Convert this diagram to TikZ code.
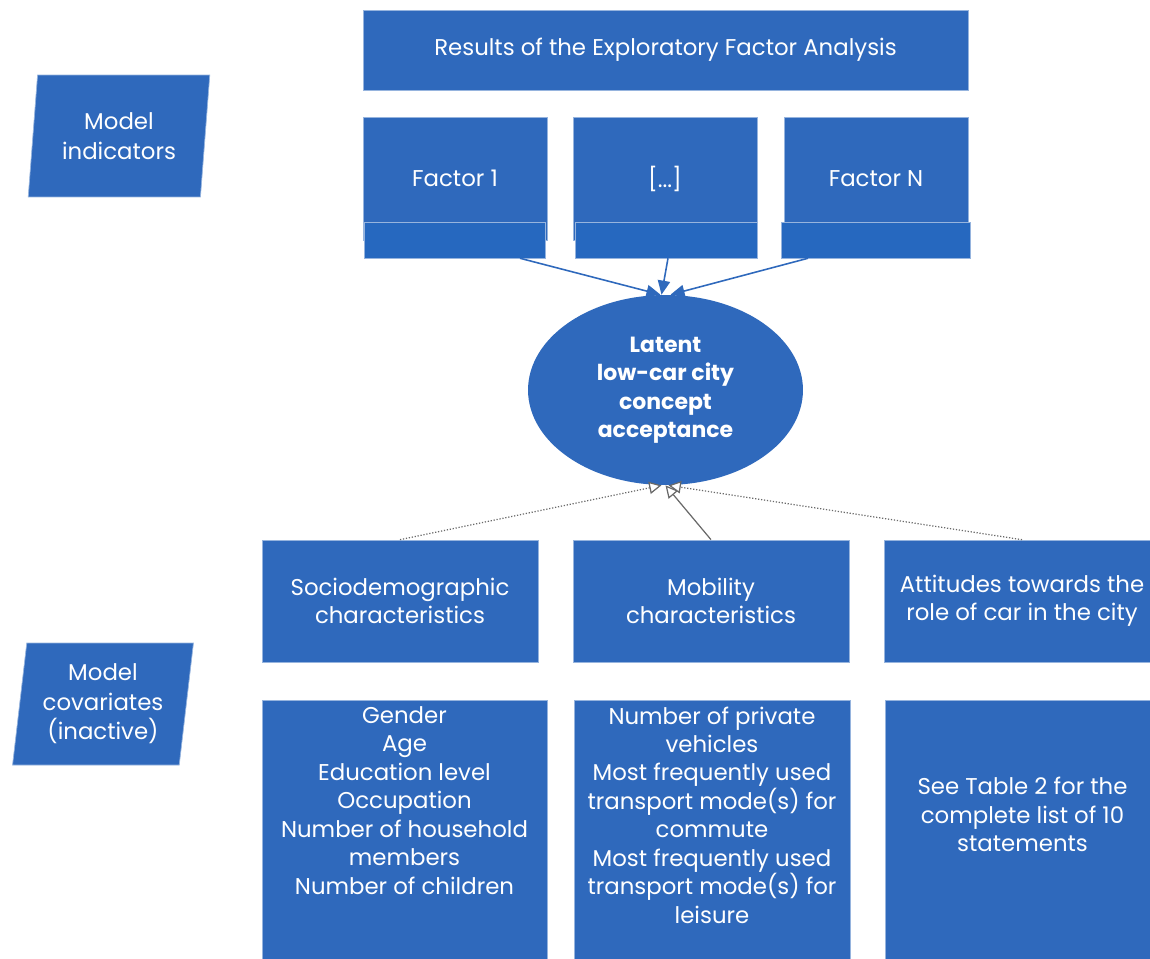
\documentclass[tikz,border=0pt]{standalone}
\usepackage{fontspec}
\setmainfont{Poppins}
\usetikzlibrary{arrows.meta, positioning, shapes.geometric}
\definecolor{boxblue}{RGB}{47,105,188}
\definecolor{bandblue}{RGB}{38,104,191}
\definecolor{edgeblue}{RGB}{150,180,222}
\definecolor{linegray}{RGB}{105,105,105}

\begin{document}
\begin{tikzpicture}[
    x=0.02cm, y=-0.02cm,
    blue box/.style={rectangle, fill=boxblue, draw=edgeblue, line width=0.4pt, text=white, align=center, inner sep=0pt, font=\fontsize{13}{16.2}\selectfont},
    factor box/.style={blue box, minimum width=3.68cm, minimum height=2.46cm},
    band/.style={rectangle, fill=bandblue, draw=edgeblue, line width=0.3pt, inner sep=0pt, minimum height=0.72cm},
    group box/.style={blue box, minimum width=5.52cm, minimum height=2.44cm},
    list box/.style={blue box, minimum height=6cm},
    list text/.style={text=white, align=center, inner sep=0pt, font=\fontsize{13}{16.2}\selectfont},
    latent/.style={ellipse, fill=boxblue, text=white, align=center, inner sep=0pt, minimum width=5.5cm, minimum height=3.8cm, font=\fontsize{12.5}{16.2}\selectfont\bfseries},
    slant/.style={trapezium, trapezium left angle=82, trapezium right angle=98, trapezium stretches=true, fill=boxblue, draw=edgeblue, line width=0.4pt, text=white, align=center, inner sep=0pt, minimum width=3.64cm, minimum height=2.44cm, font=\fontsize{13}{16.8}\selectfont},
    factor arrow/.style={-{Triangle[length=8pt, width=7pt]}, draw=boxblue, line width=0.9pt},
    cov arrow/.style={-{Triangle[length=7pt, width=7pt, fill=white]}, draw=linegray, line width=0.7pt}
]
    \path[use as bounding box] (0,0) rectangle (1150,958);
    \clip (0,0) rectangle (1150,958);

    % Side labels
    \node[slant] (ind) at (119,136) {Model\\indicators};
    \node[slant] (cov) at (103,704) {Model\\covariates\\(inactive)};

    % Indicators
    \node[blue box, minimum width=12.1cm, minimum height=1.6cm] (efa) at (665.5,50) {Results of the Exploratory Factor Analysis};
    \node[factor box] (f1) at (455,178.5) {Factor 1};
    \node[factor box] (fdots) at (665,178.5) {[...]};
    \node[factor box] (fN) at (876,178.5) {Factor N};
    \node[band, minimum width=3.62cm] (f1band) at (454.5,240) {};
    \node[band, minimum width=3.64cm] (fdotsband) at (666,240) {};
    \node[band, minimum width=3.78cm] (fNband) at (875.5,240) {};

    % Latent variable
    \node[latent] (lat) at (665.5,390) {Latent\\low-car city\\concept\\acceptance};

    % Covariate groups
    \node[group box] (socio) at (400,601) {Sociodemographic\\characteristics};
    \node[group box] (mob) at (711,601) {Mobility\\characteristics};
    \node[group box] (att) at (1022,601) {Attitudes towards the\\role of car in the city};

    \node[list box, minimum width=5.7cm] (socioLow) at (404.5,850) {};
    \node[list box, minimum width=5.52cm] (mobLow) at (712,850) {};
    \node[list box, minimum width=5.5cm] (attLow) at (1022.5,850) {};
    \node[list text] (socioList) at (404.5,800.5) {Gender\\Age\\Education level\\Occupation\\Number of household\\members\\Number of children};
    \node[list text] (mobList) at (712,815) {Number of private\\vehicles\\Most frequently used\\transport mode(s) for\\commute\\Most frequently used\\transport mode(s) for\\leisure};
    \node[list text] (attList) at (1022.5,814.5) {See Table 2 for the\\complete list of 10\\statements};

    % Edges
    \draw[factor arrow] ([xshift=1.31cm]f1band.south) -- ([xshift=-0.1cm]lat.north);
    \draw[factor arrow] ([xshift=0.04cm]fdotsband.south) -- ([xshift=-0.08cm]lat.north);
    \draw[factor arrow] ([xshift=-1.35cm]fNband.south) -- ([xshift=0.1cm]lat.north);
    \draw[cov arrow, densely dotted] (socio.north) -- ([xshift=-0.08cm]lat.south);
    \draw[cov arrow] (mob.north) -- (lat.south);
    \draw[cov arrow, densely dotted] (att.north) -- ([xshift=0.06cm]lat.south);
\end{tikzpicture}
\end{document}
